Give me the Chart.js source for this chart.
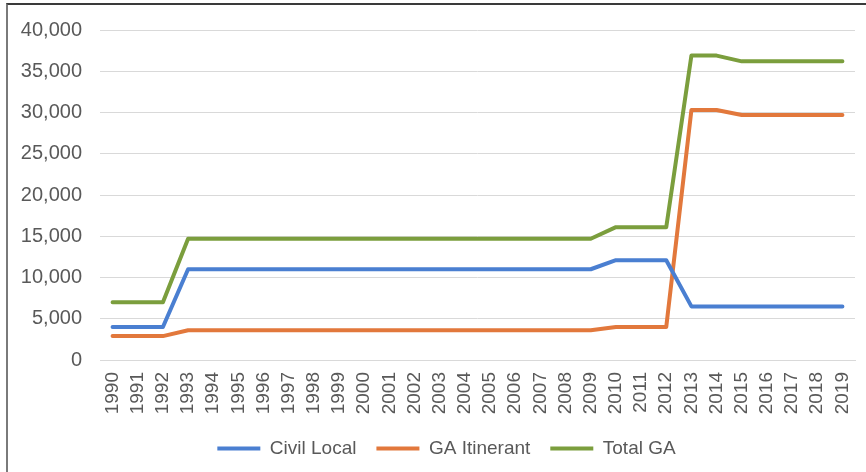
<!DOCTYPE html>
<html>
<head>
<meta charset="utf-8">
<script src="https://cdn.jsdelivr.net/npm/chart.js@4/dist/chart.umd.min.js"></script>
<style>
  html, body { margin: 0; padding: 0; background: #ffffff; }
  #wrap { position: relative; width: 866px; height: 472px; overflow: hidden; }
  #frame {
    position: absolute; left: 6px; top: 3px; right: -4px; bottom: -4px;
    border-top: 2px solid #3a3a3a; border-left: 2px solid #7a7a7a;
    pointer-events: none;
  }
</style>
</head>
<body>
<div id="wrap">
  <canvas id="chart" width="866" height="472"></canvas>
  <div id="frame"></div>
</div>
<script>
// Years on the category axis
const years = ['1990','1991','1992','1993','1994','1995','1996','1997','1998','1999',
               '2000','2001','2002','2003','2004','2005','2006','2007','2008','2009',
               '2010','2011','2012','2013','2014','2015','2016','2017','2018','2019'];

// Operations per year
const civilLocal  = [4000, 4000, 4000, 11000, 11000, 11000, 11000, 11000, 11000, 11000,
                     11000, 11000, 11000, 11000, 11000, 11000, 11000, 11000, 11000, 11000,
                     12100, 12100, 12100, 6500, 6500, 6500, 6500, 6500, 6500, 6500];
const gaItinerant = [2900, 2900, 2900, 3600, 3600, 3600, 3600, 3600, 3600, 3600,
                     3600, 3600, 3600, 3600, 3600, 3600, 3600, 3600, 3600, 3600,
                     4000, 4000, 4000, 30300, 30300, 29700, 29700, 29700, 29700, 29700];
const totalGA     = [7000, 7000, 7000, 14700, 14700, 14700, 14700, 14700, 14700, 14700,
                     14700, 14700, 14700, 14700, 14700, 14700, 14700, 14700, 14700, 14700,
                     16100, 16100, 16100, 36900, 36900, 36200, 36200, 36200, 36200, 36200];

const seriesNames = ['Civil Local', 'GA Itinerant', 'Total GA'];
const seriesColors = ['#4a7fd1', '#e2783c', '#7b9e3d'];

const textColor = '#595959';
const fontFamily = '"Liberation Sans", Arial, sans-serif';

function lineSet(label, data, color) {
  return {
    label: label,
    data: data,
    borderColor: color,
    backgroundColor: color,
    borderWidth: 4,
    borderCapStyle: 'round',
    borderJoinStyle: 'round',
    pointRadius: 0,
    pointHoverRadius: 0,
    tension: 0,
    fill: false
  };
}

// Nudge the legend row a little to the right so it sits under the plot's centre
const legendShift = {
  id: 'legendShift',
  afterLayout(chart) {
    const lg = chart.legend;
    if (lg) { lg.left += 15; lg.right += 15; }
  }
};

new Chart(document.getElementById('chart'), {
  type: 'line',
  data: {
    labels: years,
    datasets: [
      lineSet(seriesNames[0], civilLocal, seriesColors[0]),
      lineSet(seriesNames[1], gaItinerant, seriesColors[1]),
      lineSet(seriesNames[2], totalGA, seriesColors[2])
    ]
  },
  plugins: [legendShift],
  options: {
    responsive: false,
    animation: false,
    layout: { padding: { left: 8, right: 11, top: 25, bottom: 4 } },
    plugins: {
      tooltip: { enabled: false },
      title: { display: false },
      legend: {
        display: true,
        position: 'bottom',
        labels: {
          color: textColor,
          font: { family: fontFamily, size: 19 },
          boxWidth: 43,
          boxHeight: 4,
          padding: 20,
          generateLabels(chart) {
            return Chart.defaults.plugins.legend.labels.generateLabels(chart).map(item => {
              item.lineWidth = 0;
              item.strokeStyle = item.fillStyle;
              return item;
            });
          }
        }
      }
    },
    scales: {
      x: {
        offset: true,
        grid: { display: false, drawTicks: false },
        border: { display: true, color: '#d9d9d9', width: 1 },
        ticks: {
          color: textColor,
          font: { family: fontFamily, size: 19 },
          minRotation: 90,
          maxRotation: 90,
          autoSkip: false,
          padding: 12
        },
        afterFit(scale) {
          scale.height = 59;
          scale.paddingLeft = 0;
          scale.paddingRight = 0;
        }
      },
      y: {
        min: 0,
        max: 40000,
        grid: { color: '#d9d9d9', lineWidth: 1, drawTicks: false },
        border: { display: false },
        ticks: {
          stepSize: 5000,
          color: textColor,
          font: { family: fontFamily, size: 20 },
          padding: 18,
          callback: v => Number(v).toLocaleString('en-US')
        },
        afterFit(scale) { scale.width = 92; }
      }
    }
  }
});
</script>
</body>
</html>
